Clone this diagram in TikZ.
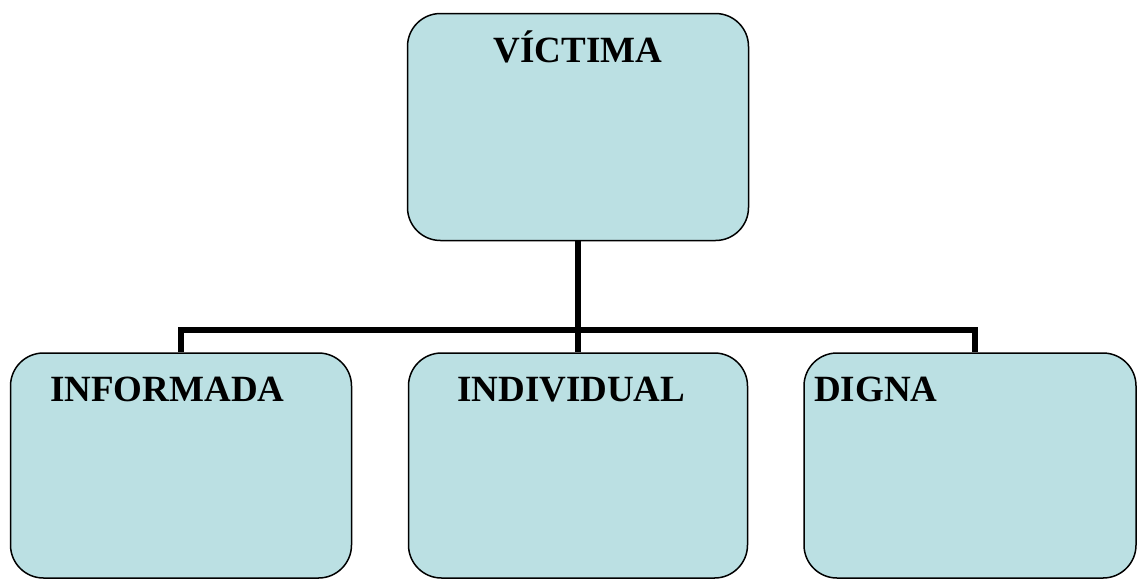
\documentclass[tikz,border=0pt]{standalone}
\usepackage{fontspec}
\setmainfont{Liberation Serif}
\usetikzlibrary{positioning}

\definecolor{boxfill}{RGB}{187,224,227}

\tikzset{
  vbox/.style={draw=black, fill=boxfill, line width=1.5pt, rounded corners=33pt, inner sep=0pt},
  link/.style={line width=6pt, color=black},
  vlabel/.style={inner sep=0pt, font=\fontsize{37}{44}\selectfont\bfseries}
}

\begin{document}
\begin{tikzpicture}[x=1pt,y=1pt,yscale=-1,xscale=1]
\useasboundingbox (0,0) rectangle (1137,579);

% Boxes
\node [vbox, minimum width=341pt, minimum height=227pt] (victima) at (578,127) {};
\node [vbox, minimum width=341pt, minimum height=225pt] (informada) at (181,465.5) {};
\node [vbox, minimum width=339pt, minimum height=225pt] (individual) at (578,465.5) {};
\node [vbox, minimum width=332pt, minimum height=225pt] (digna) at (970,465.5) {};

% Connectors
\coordinate (bar) at (578,330);
\draw [link] (victima.south) -- (bar);
\draw [link] (informada.north) |- (bar) -| ([xshift=5pt]digna.north);
\draw [link] (bar) -- (individual.north);

% Text Nodes
\node [vlabel, anchor=base] (tvictima) at (578,62) {VÍCTIMA};
\node [vlabel, anchor=base west] (tinformada) at (50,401) {INFORMADA};
\node [vlabel, anchor=base west] (tindividual) at (457,401) {INDIVIDUAL};
\node [vlabel, anchor=base west] (tdigna) at (814,401) {DIGNA};

\end{tikzpicture}
\end{document}
